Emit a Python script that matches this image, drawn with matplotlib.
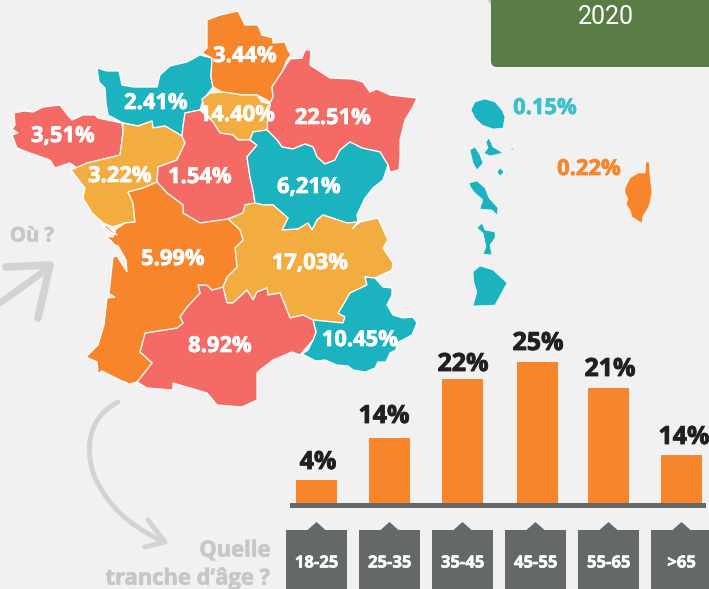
import matplotlib
matplotlib.use("Agg")
import matplotlib.pyplot as plt
import matplotlib.patheffects as pe
from matplotlib.patches import Polygon, PathPatch, FancyBboxPatch, Rectangle
from matplotlib.path import Path

# datos
categorias = ["18-25", "25-35", "35-45", "45-55", "55-65", ">65"]
etiquetas_pct = ["4%", "14%", "22%", "25%", "21%", "14%"]
# alturas (no siguen exactamente las etiquetas)
alturas = [25, 67, 126, 143, 117, 50]

reg_labels = ["3.44%", "2.41%", "14.40%", "22.51%", "3,51%", "3.22%", "1.54%",
              "6,21%", "5.99%", "17,03%", "8.92%", "10.45%"]
reg_pos = [(245, 55), (156, 102), (237, 114), (333, 117), (63, 135), (120, 175),
           (200, 176), (309, 186), (173, 258), (310, 262), (220, 345), (360, 339)]

# layout
centros_bar = [316.8, 389.5, 462.5, 537.5, 608.5, 681.5]
centros_tag = [316.5, 389.5, 462.5, 535.5, 608.5, 681.5]
pos_pct = [(318, 461), (384, 415), (463, 363), (538, 342), (610, 368), (684, 436)]

NARANJA = "#F6852B"
ROJO = "#F46A65"
TEAL = "#1BB3C0"
AMARILLO = "#F2AC40"
FONDO = "#F1F1F1"
GRIS = "#646868"
GRIS_T = "#C5C7C9"
GRIS_F = "#D1D3D4"

# contornos del mapa, en pixeles de la imagen
hauts = [(207,20),(220,15),(238,11),(241,17),(245,25),(258,25),(262,35),(273,38),(273,43),(285,42),
         (288,50),(291,55),(287,60),(282,72),(272,87),(273,97),(270,103),(267,100),(257,95),(242,95),
         (230,93),(222,92),(213,87),(211,77),(212,58),(202,53),(207,48),(207,33)]
grand_est = [(290,59),(302,58),(305,50),(311,50),(310,65),(330,78),(353,79),(363,82),(370,92),(377,89),
             (390,95),(417,98),(413,107),(405,120),(400,140),(400,157),(399,170),(390,172),(388,165),
             (380,152),(362,148),(350,142),(340,150),(335,160),(325,164),(317,157),(313,147),(305,144),
             (293,149),(282,147),(277,140),(267,130),(267,123),(270,103),(273,97),(272,87),(282,72)]
idf = [(202,99),(210,93),(222,92),(230,93),(242,95),(257,95),(262,102),(270,104),(268,115),(267,130),
       (253,132),(250,140),(238,140),(233,135),(220,133),(213,122),(205,112)]
normandie = [(97,68),(107,71),(119,71),(122,85),(133,87),(157,87),(160,75),(170,66),(187,62),(200,55),
             (212,58),(211,77),(213,87),(203,100),(200,110),(185,113),(183,127),(182,136),(165,126),
             (153,128),(152,121),(138,126),(123,123),(108,115),(106,103),(105,88),(99,82)]
bretagne = [(14,113),(24,111),(33,112),(43,107),(60,105),(66,113),(72,120),(83,115),(95,115),(98,118),
            (122,123),(123,133),(120,155),(112,157),(87,163),(77,168),(70,163),(55,168),(50,160),
            (30,153),(17,148),(14,140),(12,135),(18,133),(12,129),(15,125)]
loire = [(123,123),(138,126),(152,121),(153,128),(165,126),(182,136),(185,143),(177,160),(158,167),
         (157,182),(143,188),(128,192),(133,203),(135,222),(125,223),(113,227),(103,223),(92,213),
         (83,198),(85,188),(71,170),(87,163),(112,157),(120,155),(123,133)]
centre = [(185,113),(200,110),(213,122),(220,133),(233,135),(238,140),(250,140),(257,145),(247,157),
          (250,177),(253,190),(255,203),(245,205),(243,213),(228,219),(200,223),(183,213),(183,205),
          (167,193),(157,182),(158,167),(177,160),(185,143),(182,136),(183,127)]
bourgogne = [(253,132),(267,130),(277,140),(282,147),(293,149),(305,144),(313,147),(317,157),(325,164),
             (335,160),(340,150),(350,142),(362,148),(380,152),(388,165),(383,180),(373,188),(365,198),
             (357,215),(358,222),(347,223),(323,215),(317,220),(312,230),(308,223),(298,229),(282,230),
             (288,218),(273,205),(263,205),(255,203),(253,190),(250,177),(247,157),(257,145),(250,140)]
ara = [(228,219),(243,213),(245,205),(255,203),(263,205),(273,205),(288,218),(282,230),(298,229),
       (308,223),(312,230),(317,220),(323,215),(347,223),(358,222),(352,229),(360,222),(378,218),
       (388,240),(383,248),(393,263),(392,270),(375,278),(365,277),(367,285),(350,293),(342,307),
       (338,313),(345,317),(343,323),(313,320),(303,315),(290,318),(285,305),(280,293),(268,295),
       (267,288),(257,292),(253,300),(247,290),(233,303),(227,303),(223,287),(227,277),(237,267),
       (235,248),(243,240),(240,230)]
paca = [(365,277),(375,278),(383,287),(392,288),(392,295),(387,305),(393,315),(403,318),(413,317),(417,323),
        (412,335),(397,343),(396,350),(390,353),(386,362),(378,362),(375,368),(365,372),(353,370),
        (348,366),(337,365),(325,360),(316,361),(308,357),(302,354),
        (308,350),(313,340),(316,332),(313,320),(343,323),(345,317),(338,313),(342,307),(350,293),(367,285)]
occitanie = [(223,287),(227,303),(233,303),(247,290),(253,300),(257,292),(267,288),(268,295),(280,293),
             (285,305),(290,318),(303,315),(313,320),(316,332),(313,340),(300,355),(292,352),(273,360),
             (260,370),(257,373),(257,400),(242,407),(217,405),(207,393),(173,383),(173,390),(147,388),
             (137,382),(152,363),(140,352),(145,333),(177,328),(183,323),(180,317),(187,307),(200,293),
             (198,285),(207,285),(212,290),(222,287)]
aquitaine = [(128,192),(143,188),(157,182),(167,193),(183,205),(183,213),(200,223),(228,219),(240,230),
             (243,240),(235,248),(237,267),(227,277),(223,287),(212,290),(207,285),(198,285),(200,293),
             (187,307),(180,317),(183,323),(177,328),(145,333),(140,352),(152,363),(137,382),(130,384),
             (122,381),(102,371),(98,374),(97,362),(86,357),(98,345),(104,325),(107,298),(115,297),
             (109,294),(111,275),(113,257),(117,256),(127,272),(126,260),(118,246),(115,245),(106,236),
             (113,237),(116,229),(125,223),(135,222),(133,203)]
oleron = [(102,225),(107,226),(117,235),(112,233)]

reunion = [(475,102),(485,99),(495,102),(502,110),(505,117),(503,128),(493,129),(482,125),(475,118),(471,110)]
guad_a = [(470,150),(475,147),(480,155),(483,163),(477,170),(473,163)]
guad_b = [(484,153),(488,148),(486,142),(489,138),(493,147),(503,153),(490,156)]
guad_c = [(497,172),(500,168),(504,172),(500,176)]
guad_d = [(509,149),(515,148),(513,150)]
martinique = [(469,183),(477,181),(485,188),(489,198),(498,208),(497,215),(492,210),(480,209),(481,205),
              (483,200),(475,193),(471,188)]
mayotte = [(477,228),(482,223),(485,230),(495,232),(495,238),(490,245),(492,255),(483,254),(486,247),(483,233)]
guyane = [(473,272),(480,266),(493,270),(507,283),(495,305),(473,306),(477,292),(474,283)]
corse = [(646,162),(649,162),(650,175),(652,192),(650,203),(647,210),(643,216),(642,223),(638,221),
         (632,217),(630,210),(626,204),(628,199),(625,193),(625,188),(630,178),(638,173),(645,173)]

plt.rcParams['font.family'] = ['Open Sans', 'DejaVu Sans']


def texto(eje, x, y, txt, color, size, grosor=0.5, **kw):
    kw.setdefault("ha", "center")
    t = eje.text(x, y, txt, color=color, fontsize=size, fontweight="bold", va="center", zorder=6, **kw)
    # Open Sans queda fina comparada con la original
    t.set_path_effects([pe.withStroke(linewidth=grosor, foreground=color)])
    return t


fig = plt.figure(figsize=(7.09, 5.89), dpi=100, facecolor=FONDO)
ax = fig.add_axes([0, 0, 1, 1])
ax.set_xlim(0, 709)
ax.set_ylim(589, 0)
ax.axis('off')

for contorno, color in [(bretagne, ROJO), (normandie, TEAL), (hauts, NARANJA), (grand_est, ROJO),
                        (idf, AMARILLO), (loire, AMARILLO), (centre, ROJO), (bourgogne, TEAL),
                        (ara, AMARILLO), (paca, TEAL), (occitanie, ROJO), (aquitaine, NARANJA),
                        (oleron, NARANJA)]:
    ax.add_patch(Polygon(contorno, closed=True, fc=color, ec="white", lw=0.9, zorder=2))

for contorno in [reunion, guad_a, guad_b, guad_c, guad_d, martinique, mayotte, guyane]:
    ax.add_patch(Polygon(contorno, closed=True, fc=TEAL, ec="white", lw=0.4, zorder=2))
ax.add_patch(Polygon(corse, closed=True, fc=NARANJA, ec="white", lw=0.4, zorder=2))

for txt, (x, y) in zip(reg_labels, reg_pos):
    texto(ax, x, y + 1.5, txt, "white", 15.8)
texto(ax, 545, 108.5, "0.15%", "#3CC0CE", 15.8)
texto(ax, 589, 169.5, "0.22%", NARANJA, 15.8)

# caja 2020
ax.add_patch(Polygon([(487, 0), (491, 0), (491, 5)], closed=True, fc="#C9CBCC", ec="none"))
ax.add_patch(FancyBboxPatch((495, -30), 230, 93, boxstyle="round,pad=4,rounding_size=6", fc="#5A7D46", ec="none"))
ax.text(606, 17, "2020", color="white", fontsize=18, family="Roboto", ha="center", va="center")

# flechas
ax.plot([0, 50], [303, 267], color=GRIS_F, lw=5, solid_capstyle="round")
ax.plot([6, 50, 38], [267, 265, 318], color=GRIS_F, lw=5.5, solid_capstyle="round", solid_joinstyle="round")
curva = Path([(118, 402), (78, 422), (88, 470), (100, 487), (115, 515), (140, 530), (163, 542)],
             [Path.MOVETO, Path.CURVE4, Path.CURVE4, Path.CURVE4, Path.CURVE4, Path.CURVE4, Path.CURVE4])
ax.add_patch(PathPatch(curva, fc="none", ec=GRIS_F, lw=3.5, capstyle="round"))
ax.plot([148, 165, 145], [520, 542, 547], color=GRIS_F, lw=3.5, solid_capstyle="round", solid_joinstyle="round")

texto(ax, 32, 236.5, "Où ?", GRIS_T, 14.5)
texto(ax, 271, 551, "Quelle", GRIS_T, 15.8, ha="right")
texto(ax, 271, 579, "tranche d’âge ?", GRIS_T, 15.8, ha="right")

# barras, con su propio eje
ax_bar = fig.add_axes([0, (589 - 505) / 589, 1, 505 / 589])
ax_bar.set_xlim(0, 709)
ax_bar.set_ylim(0, 505)
ax_bar.axis('off')
ax_bar.patch.set_alpha(0)
ax_bar.bar(centros_bar, alturas, width=41, color=NARANJA, zorder=2)

ax_top = fig.add_axes([0, 0, 1, 1])
ax_top.set_xlim(0, 709)
ax_top.set_ylim(589, 0)
ax_top.axis('off')
ax_top.patch.set_alpha(0)
ax_top.add_patch(Rectangle((290, 503), 416, 5, fc=GRIS, ec="none", zorder=4))
for txt, (x, y) in zip(etiquetas_pct, pos_pct):
    texto(ax_top, x, y + 1.5, txt, "#231F20", 18, grosor=0.6)

# etiquetas de categoria
for cat, x in zip(categorias, centros_tag):
    ax_top.add_patch(Polygon([(x - 30.5, 589), (x - 30.5, 530), (x - 9, 530), (x, 522), (x + 9, 530),
                              (x + 30.5, 530), (x + 30.5, 589)], closed=True, fc=GRIS, ec="none"))
    texto(ax_top, x, 562.5, cat, "white", 12, grosor=0.4)

fig.savefig("out.png", dpi=100, facecolor=FONDO)
